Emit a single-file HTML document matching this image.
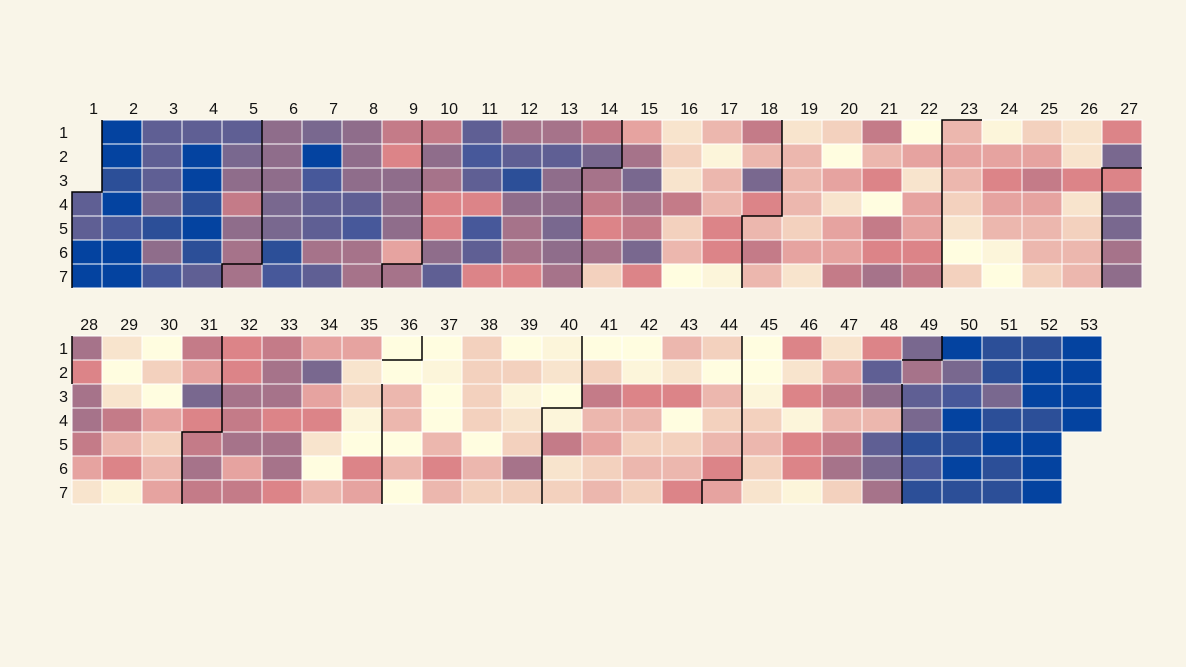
<!DOCTYPE html>
<html><head><meta charset="utf-8"><style>
html,body{margin:0;padding:0;background:#f9f5e8;}
svg{display:block}
rect{width:40px;height:24px;stroke:#fff;stroke-width:1}
.c1 rect{width:30px}
.B{fill:#0443a0}.b{fill:#2c4f98}.n{fill:#47589a}.N{fill:#5f5f94}.P{fill:#79688f}.p{fill:#8f6d8b}.M{fill:#a6738a}.R{fill:#c47b88}.r{fill:#dc8488}.k{fill:#e6a3a0}.K{fill:#ecb7ae}.s{fill:#f3d1be}.S{fill:#f8e4cd}.y{fill:#fcf5da}.Y{fill:#fffde0}
text{font-family:"Liberation Sans",sans-serif;font-size:16px;fill:#111}
.t text{text-anchor:end}
path{fill:none;stroke:#000;stroke-width:1.5}
</style></head><body>
<svg width="1186" height="667" viewBox="0 0 1186 667">
<rect x="0" y="0" width="1186" height="667" style="width:1186px;height:667px;fill:#f9f5e8;stroke:none"/>
<g class="t">
<text x="98" y="114">1</text><text x="138" y="114">2</text><text x="178" y="114">3</text><text x="218" y="114">4</text><text x="258" y="114">5</text><text x="298" y="114">6</text><text x="338" y="114">7</text><text x="378" y="114">8</text><text x="418" y="114">9</text><text x="458" y="114">10</text><text x="498" y="114">11</text><text x="538" y="114">12</text><text x="578" y="114">13</text><text x="618" y="114">14</text><text x="658" y="114">15</text><text x="698" y="114">16</text><text x="738" y="114">17</text><text x="778" y="114">18</text><text x="818" y="114">19</text><text x="858" y="114">20</text><text x="898" y="114">21</text><text x="938" y="114">22</text><text x="978" y="114">23</text><text x="1018" y="114">24</text><text x="1058" y="114">25</text><text x="1098" y="114">26</text><text x="1138" y="114">27</text>
<text x="98" y="330">28</text><text x="138" y="330">29</text><text x="178" y="330">30</text><text x="218" y="330">31</text><text x="258" y="330">32</text><text x="298" y="330">33</text><text x="338" y="330">34</text><text x="378" y="330">35</text><text x="418" y="330">36</text><text x="458" y="330">37</text><text x="498" y="330">38</text><text x="538" y="330">39</text><text x="578" y="330">40</text><text x="618" y="330">41</text><text x="658" y="330">42</text><text x="698" y="330">43</text><text x="738" y="330">44</text><text x="778" y="330">45</text><text x="818" y="330">46</text><text x="858" y="330">47</text><text x="898" y="330">48</text><text x="938" y="330">49</text><text x="978" y="330">50</text><text x="1018" y="330">51</text><text x="1058" y="330">52</text><text x="1098" y="330">53</text>
<text x="68" y="138">1</text><text x="68" y="162">2</text><text x="68" y="186">3</text><text x="68" y="210">4</text><text x="68" y="234">5</text><text x="68" y="258">6</text><text x="68" y="282">7</text>
<text x="68" y="354">1</text><text x="68" y="378">2</text><text x="68" y="402">3</text><text x="68" y="426">4</text><text x="68" y="450">5</text><text x="68" y="474">6</text><text x="68" y="498">7</text>
</g>
<!-- top block -->
<g class="c1" transform="translate(72,0)"><rect y="192" class="N"/><rect y="216" class="N"/><rect y="240" class="B"/><rect y="264" class="B"/></g>
<g transform="translate(102,0)"><rect y="120" class="B"/><rect y="144" class="B"/><rect y="168" class="b"/><rect y="192" class="B"/><rect y="216" class="n"/><rect y="240" class="B"/><rect y="264" class="B"/></g>
<g transform="translate(142,0)"><rect y="120" class="N"/><rect y="144" class="N"/><rect y="168" class="N"/><rect y="192" class="P"/><rect y="216" class="b"/><rect y="240" class="p"/><rect y="264" class="n"/></g>
<g transform="translate(182,0)"><rect y="120" class="N"/><rect y="144" class="B"/><rect y="168" class="B"/><rect y="192" class="b"/><rect y="216" class="B"/><rect y="240" class="b"/><rect y="264" class="N"/></g>
<g transform="translate(222,0)"><rect y="120" class="N"/><rect y="144" class="P"/><rect y="168" class="p"/><rect y="192" class="R"/><rect y="216" class="p"/><rect y="240" class="M"/><rect y="264" class="M"/></g>
<g transform="translate(262,0)"><rect y="120" class="p"/><rect y="144" class="p"/><rect y="168" class="p"/><rect y="192" class="P"/><rect y="216" class="P"/><rect y="240" class="b"/><rect y="264" class="n"/></g>
<g transform="translate(302,0)"><rect y="120" class="P"/><rect y="144" class="B"/><rect y="168" class="n"/><rect y="192" class="N"/><rect y="216" class="N"/><rect y="240" class="M"/><rect y="264" class="N"/></g>
<g transform="translate(342,0)"><rect y="120" class="p"/><rect y="144" class="p"/><rect y="168" class="p"/><rect y="192" class="N"/><rect y="216" class="n"/><rect y="240" class="M"/><rect y="264" class="M"/></g>
<g transform="translate(382,0)"><rect y="120" class="R"/><rect y="144" class="r"/><rect y="168" class="p"/><rect y="192" class="p"/><rect y="216" class="p"/><rect y="240" class="k"/><rect y="264" class="M"/></g>
<g transform="translate(422,0)"><rect y="120" class="R"/><rect y="144" class="p"/><rect y="168" class="M"/><rect y="192" class="r"/><rect y="216" class="r"/><rect y="240" class="p"/><rect y="264" class="N"/></g>
<g transform="translate(462,0)"><rect y="120" class="N"/><rect y="144" class="n"/><rect y="168" class="N"/><rect y="192" class="r"/><rect y="216" class="n"/><rect y="240" class="N"/><rect y="264" class="r"/></g>
<g transform="translate(502,0)"><rect y="120" class="M"/><rect y="144" class="N"/><rect y="168" class="b"/><rect y="192" class="p"/><rect y="216" class="M"/><rect y="240" class="M"/><rect y="264" class="r"/></g>
<g transform="translate(542,0)"><rect y="120" class="M"/><rect y="144" class="N"/><rect y="168" class="p"/><rect y="192" class="p"/><rect y="216" class="P"/><rect y="240" class="p"/><rect y="264" class="M"/></g>
<g transform="translate(582,0)"><rect y="120" class="R"/><rect y="144" class="P"/><rect y="168" class="M"/><rect y="192" class="R"/><rect y="216" class="r"/><rect y="240" class="M"/><rect y="264" class="s"/></g>
<g transform="translate(622,0)"><rect y="120" class="k"/><rect y="144" class="M"/><rect y="168" class="P"/><rect y="192" class="M"/><rect y="216" class="R"/><rect y="240" class="P"/><rect y="264" class="r"/></g>
<g transform="translate(662,0)"><rect y="120" class="S"/><rect y="144" class="s"/><rect y="168" class="S"/><rect y="192" class="R"/><rect y="216" class="s"/><rect y="240" class="K"/><rect y="264" class="Y"/></g>
<g transform="translate(702,0)"><rect y="120" class="K"/><rect y="144" class="y"/><rect y="168" class="K"/><rect y="192" class="K"/><rect y="216" class="r"/><rect y="240" class="r"/><rect y="264" class="y"/></g>
<g transform="translate(742,0)"><rect y="120" class="R"/><rect y="144" class="K"/><rect y="168" class="P"/><rect y="192" class="r"/><rect y="216" class="K"/><rect y="240" class="R"/><rect y="264" class="K"/></g>
<g transform="translate(782,0)"><rect y="120" class="S"/><rect y="144" class="K"/><rect y="168" class="K"/><rect y="192" class="K"/><rect y="216" class="s"/><rect y="240" class="k"/><rect y="264" class="S"/></g>
<g transform="translate(822,0)"><rect y="120" class="s"/><rect y="144" class="Y"/><rect y="168" class="k"/><rect y="192" class="S"/><rect y="216" class="k"/><rect y="240" class="k"/><rect y="264" class="R"/></g>
<g transform="translate(862,0)"><rect y="120" class="R"/><rect y="144" class="K"/><rect y="168" class="r"/><rect y="192" class="Y"/><rect y="216" class="R"/><rect y="240" class="r"/><rect y="264" class="M"/></g>
<g transform="translate(902,0)"><rect y="120" class="Y"/><rect y="144" class="k"/><rect y="168" class="S"/><rect y="192" class="k"/><rect y="216" class="k"/><rect y="240" class="r"/><rect y="264" class="R"/></g>
<g transform="translate(942,0)"><rect y="120" class="K"/><rect y="144" class="k"/><rect y="168" class="K"/><rect y="192" class="s"/><rect y="216" class="S"/><rect y="240" class="Y"/><rect y="264" class="s"/></g>
<g transform="translate(982,0)"><rect y="120" class="y"/><rect y="144" class="k"/><rect y="168" class="r"/><rect y="192" class="k"/><rect y="216" class="K"/><rect y="240" class="y"/><rect y="264" class="Y"/></g>
<g transform="translate(1022,0)"><rect y="120" class="s"/><rect y="144" class="k"/><rect y="168" class="R"/><rect y="192" class="k"/><rect y="216" class="K"/><rect y="240" class="K"/><rect y="264" class="s"/></g>
<g transform="translate(1062,0)"><rect y="120" class="S"/><rect y="144" class="S"/><rect y="168" class="r"/><rect y="192" class="S"/><rect y="216" class="s"/><rect y="240" class="K"/><rect y="264" class="K"/></g>
<g transform="translate(1102,0)"><rect y="120" class="r"/><rect y="144" class="P"/><rect y="168" class="r"/><rect y="192" class="P"/><rect y="216" class="P"/><rect y="240" class="M"/><rect y="264" class="p"/></g>
<!-- bottom block -->
<g class="c1" transform="translate(72,0)"><rect y="336" class="M"/><rect y="360" class="r"/><rect y="384" class="M"/><rect y="408" class="M"/><rect y="432" class="R"/><rect y="456" class="k"/><rect y="480" class="S"/></g>
<g transform="translate(102,0)"><rect y="336" class="S"/><rect y="360" class="Y"/><rect y="384" class="S"/><rect y="408" class="R"/><rect y="432" class="K"/><rect y="456" class="r"/><rect y="480" class="y"/></g>
<g transform="translate(142,0)"><rect y="336" class="Y"/><rect y="360" class="s"/><rect y="384" class="Y"/><rect y="408" class="k"/><rect y="432" class="s"/><rect y="456" class="K"/><rect y="480" class="k"/></g>
<g transform="translate(182,0)"><rect y="336" class="R"/><rect y="360" class="k"/><rect y="384" class="P"/><rect y="408" class="r"/><rect y="432" class="R"/><rect y="456" class="M"/><rect y="480" class="R"/></g>
<g transform="translate(222,0)"><rect y="336" class="r"/><rect y="360" class="r"/><rect y="384" class="M"/><rect y="408" class="R"/><rect y="432" class="M"/><rect y="456" class="k"/><rect y="480" class="R"/></g>
<g transform="translate(262,0)"><rect y="336" class="R"/><rect y="360" class="M"/><rect y="384" class="M"/><rect y="408" class="r"/><rect y="432" class="M"/><rect y="456" class="M"/><rect y="480" class="r"/></g>
<g transform="translate(302,0)"><rect y="336" class="k"/><rect y="360" class="P"/><rect y="384" class="k"/><rect y="408" class="r"/><rect y="432" class="S"/><rect y="456" class="Y"/><rect y="480" class="K"/></g>
<g transform="translate(342,0)"><rect y="336" class="k"/><rect y="360" class="S"/><rect y="384" class="s"/><rect y="408" class="y"/><rect y="432" class="Y"/><rect y="456" class="r"/><rect y="480" class="k"/></g>
<g transform="translate(382,0)"><rect y="336" class="Y"/><rect y="360" class="Y"/><rect y="384" class="K"/><rect y="408" class="K"/><rect y="432" class="Y"/><rect y="456" class="K"/><rect y="480" class="Y"/></g>
<g transform="translate(422,0)"><rect y="336" class="Y"/><rect y="360" class="y"/><rect y="384" class="Y"/><rect y="408" class="Y"/><rect y="432" class="K"/><rect y="456" class="r"/><rect y="480" class="K"/></g>
<g transform="translate(462,0)"><rect y="336" class="s"/><rect y="360" class="s"/><rect y="384" class="s"/><rect y="408" class="s"/><rect y="432" class="Y"/><rect y="456" class="K"/><rect y="480" class="s"/></g>
<g transform="translate(502,0)"><rect y="336" class="Y"/><rect y="360" class="s"/><rect y="384" class="y"/><rect y="408" class="S"/><rect y="432" class="s"/><rect y="456" class="M"/><rect y="480" class="s"/></g>
<g transform="translate(542,0)"><rect y="336" class="y"/><rect y="360" class="S"/><rect y="384" class="Y"/><rect y="408" class="y"/><rect y="432" class="R"/><rect y="456" class="S"/><rect y="480" class="s"/></g>
<g transform="translate(582,0)"><rect y="336" class="Y"/><rect y="360" class="s"/><rect y="384" class="R"/><rect y="408" class="K"/><rect y="432" class="k"/><rect y="456" class="s"/><rect y="480" class="K"/></g>
<g transform="translate(622,0)"><rect y="336" class="Y"/><rect y="360" class="y"/><rect y="384" class="r"/><rect y="408" class="K"/><rect y="432" class="s"/><rect y="456" class="K"/><rect y="480" class="s"/></g>
<g transform="translate(662,0)"><rect y="336" class="K"/><rect y="360" class="S"/><rect y="384" class="r"/><rect y="408" class="Y"/><rect y="432" class="s"/><rect y="456" class="K"/><rect y="480" class="r"/></g>
<g transform="translate(702,0)"><rect y="336" class="s"/><rect y="360" class="Y"/><rect y="384" class="K"/><rect y="408" class="s"/><rect y="432" class="K"/><rect y="456" class="r"/><rect y="480" class="k"/></g>
<g transform="translate(742,0)"><rect y="336" class="Y"/><rect y="360" class="Y"/><rect y="384" class="y"/><rect y="408" class="s"/><rect y="432" class="K"/><rect y="456" class="s"/><rect y="480" class="S"/></g>
<g transform="translate(782,0)"><rect y="336" class="r"/><rect y="360" class="S"/><rect y="384" class="r"/><rect y="408" class="y"/><rect y="432" class="r"/><rect y="456" class="r"/><rect y="480" class="y"/></g>
<g transform="translate(822,0)"><rect y="336" class="S"/><rect y="360" class="k"/><rect y="384" class="R"/><rect y="408" class="K"/><rect y="432" class="R"/><rect y="456" class="M"/><rect y="480" class="s"/></g>
<g transform="translate(862,0)"><rect y="336" class="r"/><rect y="360" class="N"/><rect y="384" class="p"/><rect y="408" class="K"/><rect y="432" class="N"/><rect y="456" class="P"/><rect y="480" class="M"/></g>
<g transform="translate(902,0)"><rect y="336" class="P"/><rect y="360" class="M"/><rect y="384" class="N"/><rect y="408" class="P"/><rect y="432" class="b"/><rect y="456" class="n"/><rect y="480" class="b"/></g>
<g transform="translate(942,0)"><rect y="336" class="B"/><rect y="360" class="P"/><rect y="384" class="n"/><rect y="408" class="B"/><rect y="432" class="b"/><rect y="456" class="B"/><rect y="480" class="b"/></g>
<g transform="translate(982,0)"><rect y="336" class="b"/><rect y="360" class="b"/><rect y="384" class="P"/><rect y="408" class="b"/><rect y="432" class="B"/><rect y="456" class="b"/><rect y="480" class="b"/></g>
<g transform="translate(1022,0)"><rect y="336" class="b"/><rect y="360" class="B"/><rect y="384" class="B"/><rect y="408" class="b"/><rect y="432" class="B"/><rect y="456" class="B"/><rect y="480" class="B"/></g>
<g transform="translate(1062,0)"><rect y="336" class="B"/><rect y="360" class="B"/><rect y="384" class="B"/><rect y="408" class="B"/></g>
<!-- month boundaries -->
<path d="M102,120V192H72V288"/>
<path d="M262,120V264H222V288"/>
<path d="M422,120V264H382V288"/>
<path d="M622,120V168H582V288"/>
<path d="M782,120V216H742V288"/>
<path d="M982,120H942V288"/>
<path d="M1142,168H1102V288"/>
<path d="M72,336V384"/>
<path d="M222,336V432H182V504"/>
<path d="M422,336V360H382M382,384V504"/>
<path d="M582,336V408H542V504"/>
<path d="M742,336V480H702V504"/>
<path d="M942,336V360H902M902,384V504"/>
</svg>
</body></html>
